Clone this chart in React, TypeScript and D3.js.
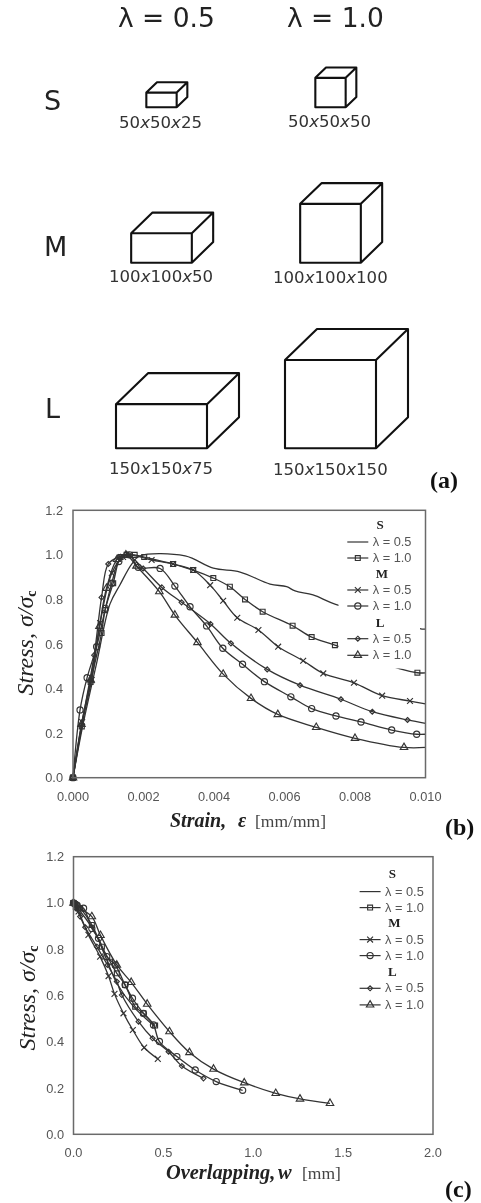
import * as d3 from "d3";

// specimen sizes (mm)
const cubeLabels = ["50x50x25", "50x50x50", "100x100x50", "100x100x100", "150x150x75", "150x150x150"];
const cubeWidths = [50, 50, 100, 100, 150, 150];
const cubeHeights = [25, 50, 50, 100, 75, 150];

// chart (b) stress-strain
const strainS05 = [[0, 0], [0.00026, 0.22], [0.00067, 0.514], [0.00105, 0.78], [0.00133, 0.865], [0.00167, 0.96], [0.0019, 0.995], [0.00318, 0.995], [0.00398, 0.94], [0.00474, 0.923], [0.00559, 0.869], [0.00606, 0.857], [0.0063, 0.838], [0.00681, 0.82], [0.00745, 0.778], [0.0099, 0.667], [0.01, 0.667]];
const strainS10 = [[0, 0], [0.00025, 0.23], [0.0005, 0.43], [0.00081, 0.649], [0.00091, 0.752], [0.00114, 0.873], [0.00135, 0.99], [0.00152, 1], [0.00175, 1], [0.00202, 0.99], [0.00284, 0.959], [0.00341, 0.932], [0.00398, 0.896], [0.00445, 0.857], [0.00488, 0.8], [0.00538, 0.745], [0.00623, 0.682], [0.00677, 0.631], [0.00743, 0.595], [0.00928, 0.488], [0.00977, 0.471], [0.01, 0.47]];
const strainM05 = [[0, 0], [0.00026, 0.25], [0.00053, 0.438], [0.00077, 0.694], [0.0011, 0.918], [0.00142, 0.991], [0.0016, 1], [0.00223, 0.977], [0.00284, 0.959], [0.00341, 0.932], [0.00389, 0.864], [0.00426, 0.794], [0.00466, 0.718], [0.00526, 0.663], [0.00582, 0.588], [0.00653, 0.525], [0.0071, 0.468], [0.00797, 0.426], [0.00877, 0.368], [0.00956, 0.344], [0.01, 0.331]];
const strainM10 = [[0, 0], [0.0002, 0.304], [0.0004, 0.449], [0.00067, 0.588], [0.00092, 0.76], [0.0011, 0.873], [0.0013, 0.97], [0.0016, 1], [0.00185, 0.944], [0.00247, 0.939], [0.00289, 0.86], [0.00332, 0.767], [0.00379, 0.681], [0.00425, 0.581], [0.00481, 0.509], [0.00543, 0.431], [0.00618, 0.363], [0.00677, 0.31], [0.00746, 0.277], [0.00817, 0.25], [0.00904, 0.214], [0.00975, 0.195], [0.01, 0.195]];
const strainL05 = [[0, 0], [0.00025, 0.24], [0.0006, 0.55], [0.00081, 0.809], [0.001, 0.959], [0.0013, 0.99], [0.00155, 1], [0.00199, 0.939], [0.00252, 0.854], [0.00308, 0.787], [0.0039, 0.69], [0.00448, 0.603], [0.00551, 0.486], [0.00644, 0.415], [0.0076, 0.352], [0.00849, 0.296], [0.00949, 0.259], [0.01, 0.244]];
const strainL10 = [[0, 0], [0.00024, 0.24], [0.0005, 0.44], [0.00075, 0.68], [0.00095, 0.85], [0.00125, 0.98], [0.0015, 1], [0.0018, 0.95], [0.00245, 0.835], [0.00289, 0.73], [0.00353, 0.607], [0.00426, 0.465], [0.00505, 0.356], [0.00581, 0.284], [0.0069, 0.226], [0.008, 0.177], [0.00939, 0.136], [0.01, 0.136]];
// where the S line comes out from behind the legend, no marker there
const strainUnmarked = [0.00928];

// chart (c) stress-overlapping
const overlapS05 = [[0, 1], [0.111, 0.883], [0.185, 0.754], [0.241, 0.653], [0.334, 0.552], [0.454, 0.465]];
const overlapS10 = [[0, 1], [0.008, 0.995], [0.037, 0.977], [0.102, 0.905], [0.158, 0.811], [0.204, 0.746], [0.241, 0.696], [0.287, 0.646], [0.343, 0.552], [0.389, 0.523], [0.454, 0.47]];
const overlapM05 = [[0, 1], [0.012, 0.985], [0.028, 0.963], [0.083, 0.862], [0.148, 0.768], [0.195, 0.684], [0.228, 0.607], [0.278, 0.523], [0.33, 0.451], [0.393, 0.375], [0.469, 0.326]];
const overlapM10 = [[0, 1], [0.02, 0.99], [0.056, 0.977], [0.102, 0.89], [0.139, 0.847], [0.185, 0.768], [0.232, 0.732], [0.287, 0.646], [0.328, 0.588], [0.389, 0.523], [0.445, 0.473], [0.478, 0.401], [0.575, 0.336], [0.677, 0.278], [0.794, 0.228], [0.941, 0.19]];
const overlapL05 = [[0, 1], [0.015, 0.975], [0.037, 0.941], [0.065, 0.895], [0.13, 0.811], [0.189, 0.732], [0.241, 0.66], [0.269, 0.602], [0.362, 0.487], [0.44, 0.415], [0.529, 0.357], [0.603, 0.295], [0.723, 0.242]];
const overlapL10 = [[0, 1], [0.03, 0.98], [0.102, 0.941], [0.15, 0.86], [0.241, 0.732], [0.321, 0.657], [0.41, 0.563], [0.534, 0.444], [0.645, 0.354], [0.779, 0.282], [0.95, 0.223], [1.125, 0.177], [1.26, 0.153], [1.427, 0.134]];

const stressTicks = [0, 0.2, 0.4, 0.6, 0.8, 1, 1.2];
const strainTicks = [0, 0.002, 0.004, 0.006, 0.008, 0.01];
const overlapTicks = [0, 0.5, 1, 1.5, 2];
const legendGroups = ["S", "M", "L"];
const legendLambdas = ["λ = 0.5", "λ = 1.0"];

const INK = "#333";
const FRAME = "#6a6a6a";
const TICK = "#555";
const SANS = "'Liberation Sans', Arial, sans-serif";
const SERIF = "'Liberation Serif', 'Times New Roman', serif";
const DEJAVU = "'DejaVu Sans', Verdana, sans-serif";

const symbols = [null, d3.symbolSquare, d3.symbolTimes, d3.symbolCircle, d3.symbolDiamond2, d3.symbolTriangle];
const symbolSizes = [0, 24, 24, 30, 16, 24];

const lineGen = (x, y) =>
  d3.line().x((d) => x(d[0])).y((d) => y(d[1])).curve(d3.curveCatmullRom.alpha(0.5));

function Marker({ type, x, y }) {
  if (!symbols[type]) return null;
  const d = d3.symbol(symbols[type], symbolSizes[type])();
  return <path d={d} transform={`translate(${x},${y})`} fill="none" stroke={INK} strokeWidth={1.15} />;
}

function Cuboid({ i }) {
  const w = d3.scaleLinear().domain([0, 150]).range([0, 91]);
  const h = d3.scaleLinear().domain([0, 150]).range([0, 88.3]);
  const depthX = d3.scaleLinear().domain([0, 150]).range([0, 32]);
  const depthY = d3.scaleLinear().domain([0, 150]).range([0, 31]);
  const centers = [161.5, 330.5];
  const baselines = [107.3, 262.7, 448.3];
  const labelX = [119, 288, 109, 273, 109, 273];
  const labelY = [128, 127, 281.7, 283, 474, 475];

  const cx = centers[i % 2];
  const base = baselines[Math.floor(i / 2)];
  const x0 = cx - w(cubeWidths[i]) / 2;
  const x1 = cx + w(cubeWidths[i]) / 2;
  const top = base - h(cubeHeights[i]);
  const dx = depthX(cubeWidths[i]);
  const dy = depthY(cubeWidths[i]);
  const parts = cubeLabels[i].split("x");

  return (
    <g>
      <path
        d={`M${x0},${base}H${x1}V${top}H${x0}Z M${x0},${top}L${x0 + dx},${top - dy}H${x1 + dx}L${x1},${top} M${x1 + dx},${top - dy}V${base - dy}L${x1},${base}`}
        fill="none"
        stroke="#111"
        strokeWidth={2.1}
        strokeLinejoin="round"
      />
      <text x={labelX[i]} y={labelY[i]} fontFamily={DEJAVU} fontSize={16.6} fill="#333">
        {parts[0]}
        <tspan fontStyle="italic">x</tspan>
        {parts[1]}
        <tspan fontStyle="italic">x</tspan>
        {parts[2]}
      </text>
    </g>
  );
}

function Legend({ dx, dy }) {
  const titleX = [380, 382, 380];
  const titleY = [528.7, 577.7, 626.7];
  const rowY = [546, 562, 594, 610, 642.7, 659.3];
  return (
    <g transform={`translate(${dx},${dy})`}>
      {legendGroups.map((g, i) => (
        <text key={g} x={titleX[i]} y={titleY[i]} textAnchor="middle" fontFamily={SERIF} fontWeight="bold" fontSize={13} fill="#222">
          {g}
        </text>
      ))}
      {rowY.map((y, i) => (
        <g key={i}>
          <line x1={347.3} x2={368.3} y1={y - 4} y2={y - 4} stroke={INK} strokeWidth={1.2} />
          <Marker type={i} x={357.8} y={y - 4} />
          <text x={372.7} y={y} fontFamily={SANS} fontSize={12.8} fill={TICK}>
            {legendLambdas[i % 2]}
          </text>
        </g>
      ))}
    </g>
  );
}

function Chart({ box, xDomain, xTicks, xFormat, series, unmarked, mask, xTickY, yTickX }) {
  const x = d3.scaleLinear().domain(xDomain).range([box.left, box.right]);
  const y = d3.scaleLinear().domain([0, 1.2]).range([box.bottom, box.top]);
  const path = lineGen(x, y);
  return (
    <g>
      {series.map((s, i) => (
        <g key={i}>
          <path d={path(s)} fill="none" stroke={INK} strokeWidth={1.3} />
          {s
            // lines run on to the frame, the last point there has no marker
            .filter((d) => d[0] < xDomain[1] && !unmarked.includes(d[0]))
            .map((d, j) => (
              <Marker key={j} type={i} x={x(d[0])} y={y(d[1])} />
            ))}
        </g>
      ))}
      {mask && <rect x={mask.x} y={mask.y} width={mask.w} height={mask.h} fill="#fff" />}
      <rect x={box.left} y={box.top} width={box.right - box.left} height={box.bottom - box.top} fill="none" stroke={FRAME} strokeWidth={1.5} />
      {stressTicks.map((t) => (
        <text key={t} x={yTickX} y={y(t) + 4.5} textAnchor="end" fontFamily={SANS} fontSize={12.8} fill={TICK}>
          {d3.format(".1f")(t)}
        </text>
      ))}
      {xTicks.map((t) => (
        <text key={t} x={x(t)} y={xTickY} textAnchor="middle" fontFamily={SANS} fontSize={12.8} fill={TICK}>
          {d3.format(xFormat)(t)}
        </text>
      ))}
    </g>
  );
}

function StressLabel({ x, y }) {
  return (
    <text transform={`translate(${x},${y}) rotate(-90)`} textAnchor="middle" fontFamily={SERIF} fontStyle="italic" fontSize={24} fill="#222">
      Stress, σ/σ
      <tspan fontSize={14} dy={3} fontStyle="normal" fontWeight="bold">c</tspan>
    </text>
  );
}

export default function App() {
  return (
    <svg width={481} height={1203} style={{ position: "absolute", left: 0, top: 0, filter: "blur(0.4px)" }}>
      <rect width={481} height={1203} fill="#fff" />
      {/* (a) specimens */}
      {legendLambdas.map((l, i) => (
        <text key={l} x={[118, 287][i]} y={27} fontFamily={DEJAVU} fontSize={26.5} fill="#222">
          {l}
        </text>
      ))}
      {legendGroups.map((g, i) => (
        <text key={g} x={[44, 44, 45][i]} y={[109.5, 256, 418][i]} fontFamily={DEJAVU} fontSize={27} fill="#222">
          {g}
        </text>
      ))}
      {cubeLabels.map((c, i) => (
        <Cuboid key={c} i={i} />
      ))}
      <text x={430} y={488} fontFamily={SERIF} fontWeight="bold" fontSize={24} fill="#111">(a)</text>

      {/* (b) */}
      <Chart
        box={{ left: 73, right: 425.5, top: 510.3, bottom: 777.7 }}
        xDomain={[0, 0.01]}
        xTicks={strainTicks}
        xFormat=".3f"
        series={[strainS05, strainS10, strainM05, strainM10, strainL05, strainL10]}
        unmarked={strainUnmarked}
        mask={{ x: 338.5, y: 515, w: 81.5, h: 153.5 }}
        xTickY={801}
        yTickX={63}
      />
      <Legend dx={0} dy={0} />
      <StressLabel x={33} y={643} />
      <text y={826.7} fontFamily={SERIF} fill="#222">
        <tspan x={170} fontWeight="bold" fontStyle="italic" fontSize={20}>Strain,</tspan>
        <tspan x={238} fontWeight="bold" fontStyle="italic" fontSize={20}>ε</tspan>
        <tspan x={255} fontSize={17.5} fill="#444">[mm/mm]</tspan>
      </text>
      <text x={445} y={835} fontFamily={SERIF} fontWeight="bold" fontSize={24} fill="#111">(b)</text>

      {/* (c) */}
      <Chart
        box={{ left: 73.5, right: 433, top: 856.7, bottom: 1134.3 }}
        xDomain={[0, 2]}
        xTicks={overlapTicks}
        xFormat=".1f"
        series={[overlapS05, overlapS10, overlapM05, overlapM10, overlapL05, overlapL10]}
        unmarked={[]}
        xTickY={1157}
        yTickX={64}
      />
      <Legend dx={12.3} dy={349.6} />
      <StressLabel x={35} y={998} />
      <text y={1179} fontFamily={SERIF} fill="#222">
        <tspan x={166} fontWeight="bold" fontStyle="italic" fontSize={20.4}>Overlapping,</tspan>
        <tspan x={278} fontWeight="bold" fontStyle="italic" fontSize={20.4}>w</tspan>
        <tspan x={302} fontSize={17.5} fill="#444">[mm]</tspan>
      </text>
      <text x={445} y={1197} fontFamily={SERIF} fontWeight="bold" fontSize={24} fill="#111">(c)</text>
    </svg>
  );
}
